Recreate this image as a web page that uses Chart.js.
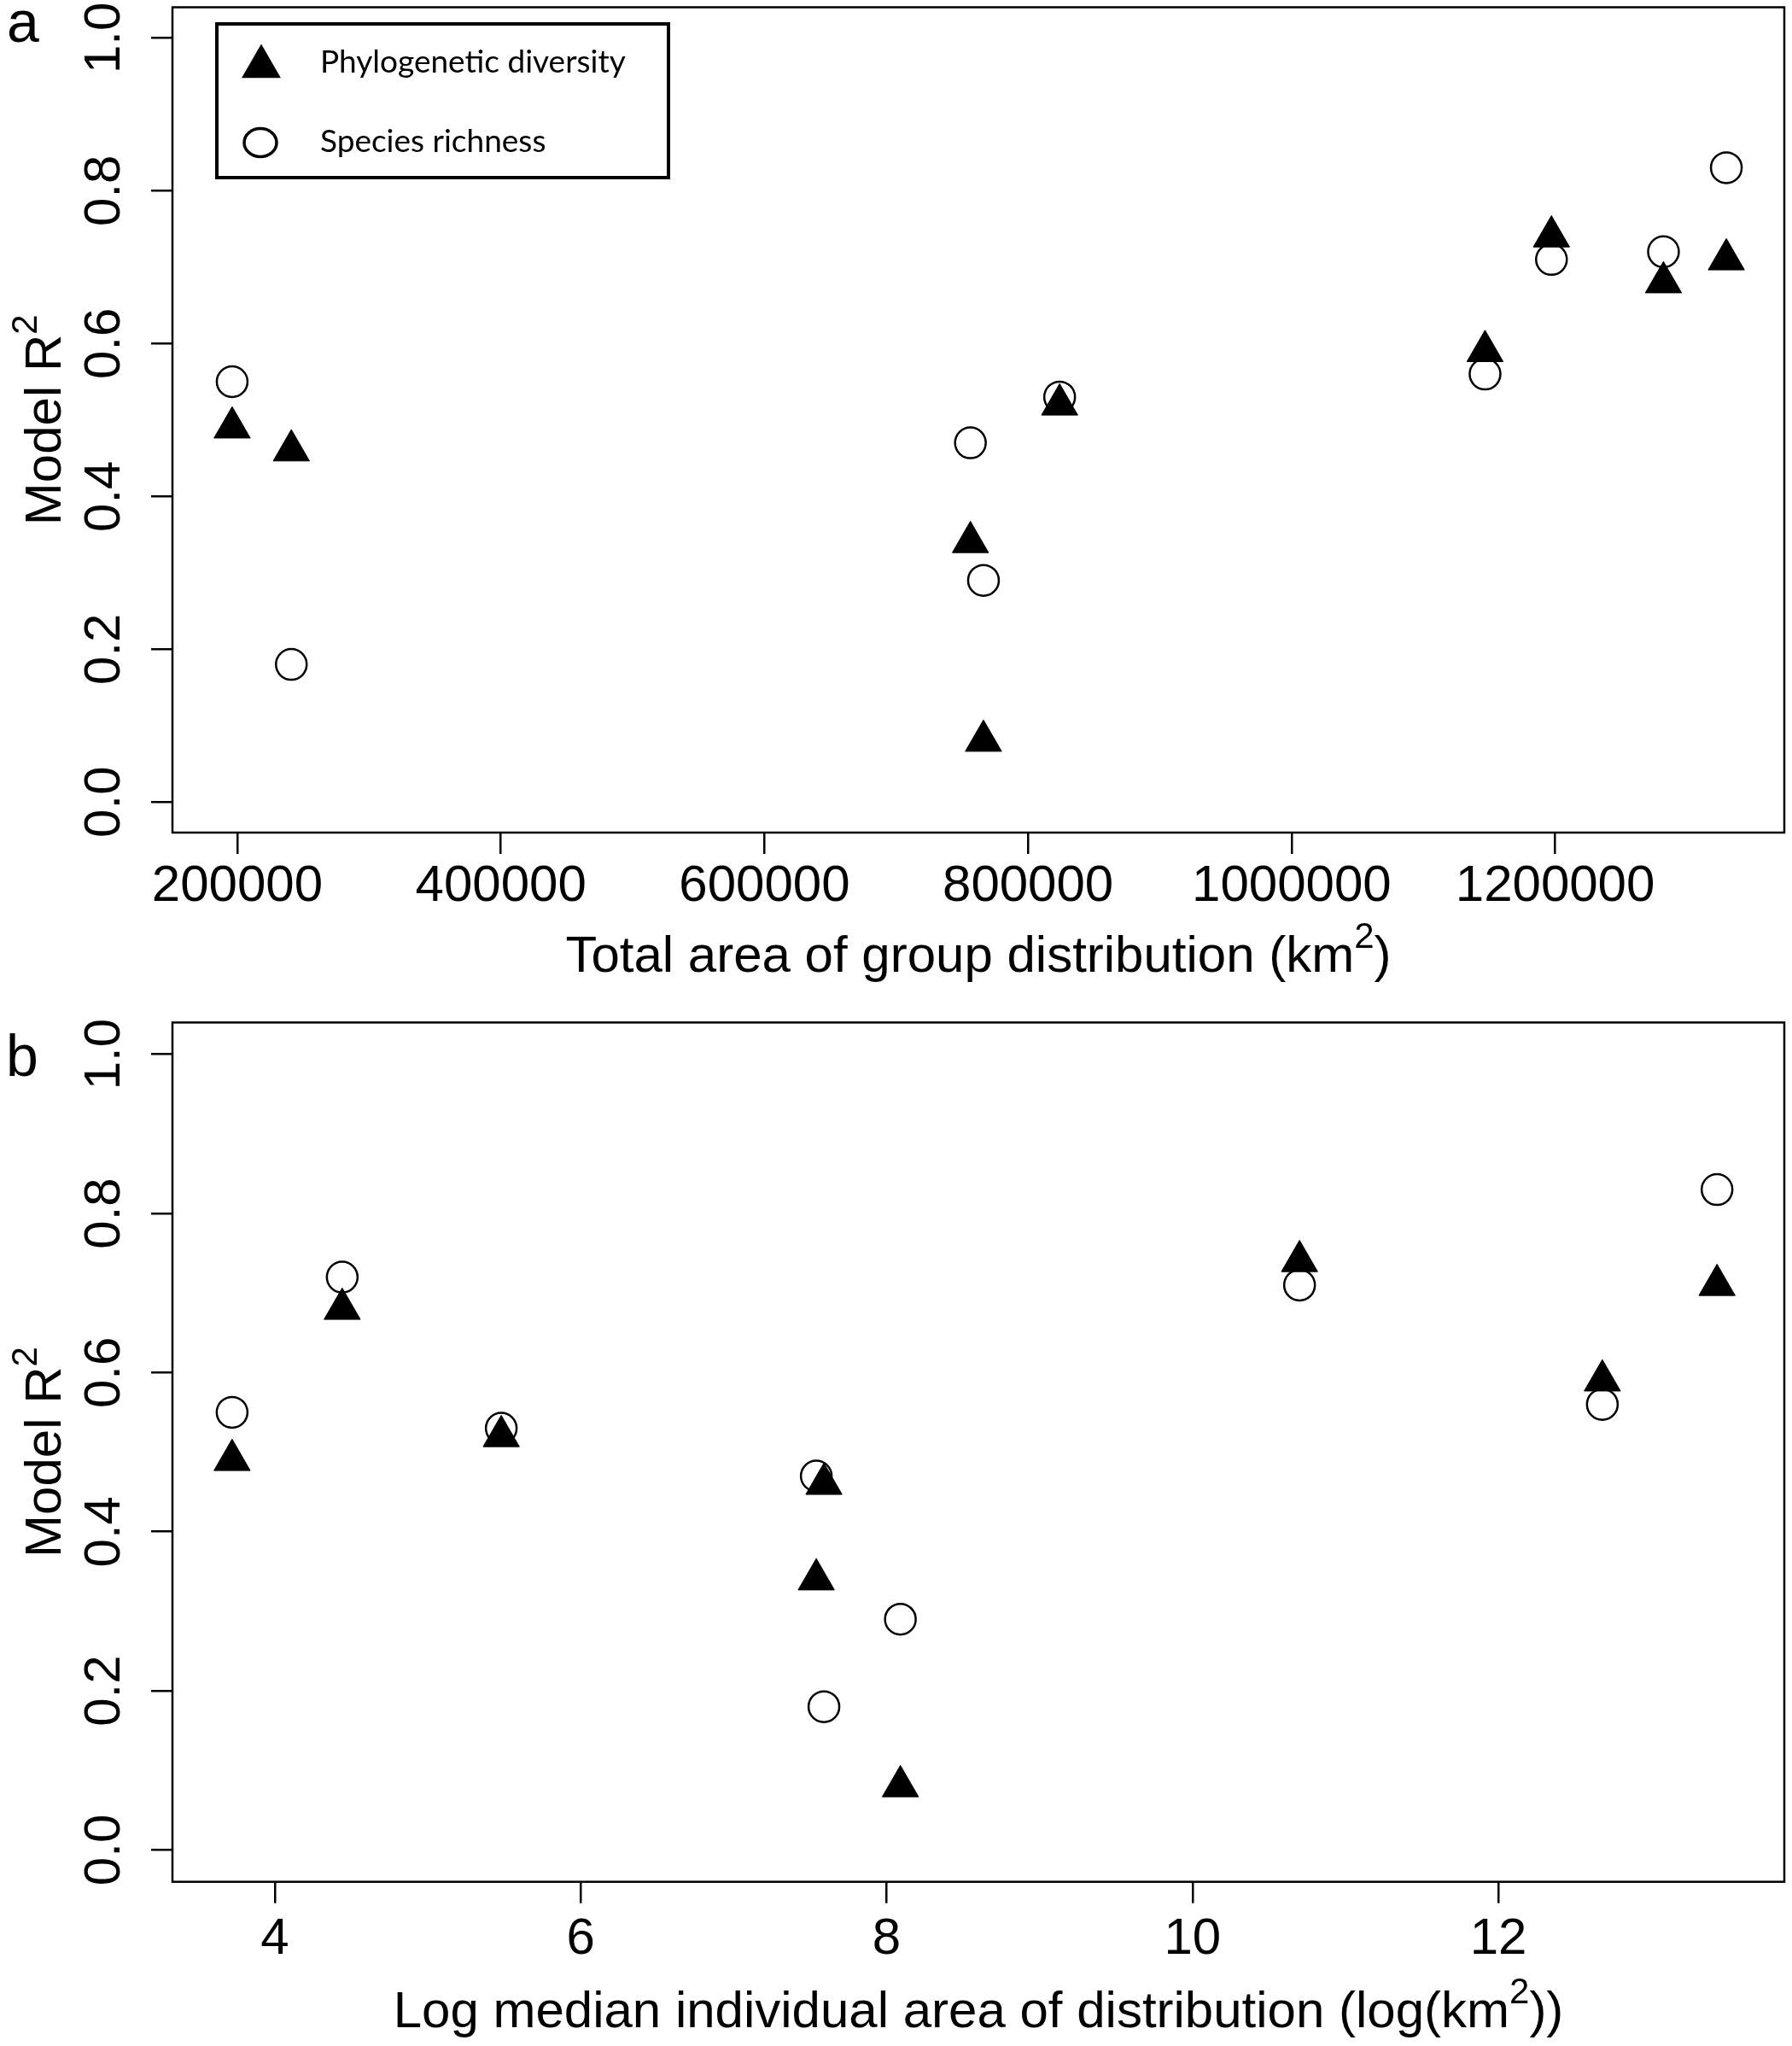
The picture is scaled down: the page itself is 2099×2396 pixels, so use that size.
<!DOCTYPE html>
<html>
<head>
<meta charset="utf-8">
<title>Model R2 against area of distribution</title>
<script src="https://cdn.jsdelivr.net/npm/chart.js@4.4.1/dist/chart.umd.min.js"></script>
<style>
  body { margin: 0; background: #fff; }
  #wrap { position: relative; width: 2099px; height: 2396px; }
  canvas { position: absolute; left: 0; }
  #chartA { top: 0; }
  #chartB { top: 1180px; }
</style>
</head>
<body>
<div id="wrap">
  <canvas id="chartA" width="2099" height="1180"></canvas>
  <canvas id="chartB" width="2099" height="1216"></canvas>
</div>
<script>
// one entry per species group, same order in every array
const totalArea = [196100, 241000, 756300, 766200, 824000, 1146800, 1197200, 1282200, 1329900];
const logMedianArea = [3.72, 7.59, 7.54, 8.09, 5.48, 12.68, 10.70, 4.44, 13.43];
const phyloDiversity = [0.49, 0.46, 0.34, 0.08, 0.52, 0.59, 0.74, 0.68, 0.71];
const speciesRichness = [0.55, 0.18, 0.47, 0.29, 0.53, 0.56, 0.71, 0.72, 0.83];

const seriesNames = ['Phylogenetic diversity', 'Species richness'];
const yTicks = [0, 0.2, 0.4, 0.6, 0.8, 1.0];
const xTicksA = [200000, 400000, 600000, 800000, 1000000, 1200000];
const xTicksB = [4, 6, 8, 10, 12];

const FONT = '"Liberation Sans", Arial, sans-serif';

// text with a superscript in the middle, centred on cx
function supText(ctx, parts, cx, y) {
  const big = '60px ' + FONT, small = '42px ' + FONT;
  ctx.font = big;
  const w1 = ctx.measureText(parts[0]).width;
  const w3 = ctx.measureText(parts[2]).width;
  ctx.font = small;
  const w2 = ctx.measureText(parts[1]).width;
  const x = cx - (w1 + w2 + w3) / 2;
  ctx.textAlign = 'left';
  ctx.textBaseline = 'alphabetic';
  ctx.font = big;
  ctx.fillText(parts[0], x, y);
  ctx.font = small;
  ctx.fillText(parts[1], x + w1, y - 28);
  ctx.font = big;
  ctx.fillText(parts[2], x + w1 + w2, y);
}

function drawLegend(ctx, chart) {
  ctx.lineWidth = 4;
  ctx.strokeRect(254, 28, 529, 180);
  // triangle
  const r = 26.5, tx = 306, ty = 78;
  ctx.beginPath();
  for (let k = 0; k < 3; k++) {
    const ang = k * 2 * Math.PI / 3;
    ctx.lineTo(tx + r * Math.sin(ang), ty - r * Math.cos(ang));
  }
  ctx.closePath();
  ctx.fill();
  // open circle
  ctx.beginPath();
  ctx.ellipse(305, 167, 19, 16.5, 0, 0, 2 * Math.PI);
  ctx.lineWidth = 3.5;
  ctx.stroke();
  ctx.font = '37px Lato';
  ctx.textAlign = 'left';
  ctx.textBaseline = 'alphabetic';
  ctx.fillText(chart.data.datasets[0].label, 375, 85);
  ctx.fillText(chart.data.datasets[1].label, 375, 178);
}

const rDecor = {
  id: 'rDecor',
  afterDraw(chart, args, o) {
    const ctx = chart.ctx, a = chart.chartArea;
    ctx.save();
    ctx.strokeStyle = '#000';
    ctx.fillStyle = '#000';
    ctx.lineWidth = 2.5;
    ctx.strokeRect(a.left, a.top, a.right - a.left, a.bottom - a.top);

    ctx.font = '68px ' + FONT;
    ctx.textAlign = 'left';
    ctx.textBaseline = 'alphabetic';
    ctx.fillText(o.letter, o.letterX, o.letterY);

    supText(ctx, o.xTitle, (a.left + a.right) / 2, o.xTitleY);

    ctx.save();
    ctx.translate(70.7, (a.top + a.bottom) / 2);
    ctx.rotate(-Math.PI / 2);
    supText(ctx, ['Model R', '2', ''], 0, 0);
    ctx.restore();

    if (o.legend) drawLegend(ctx, chart);
    ctx.restore();
  }
};

function buildChart(id, xs, xMin, xMax, xTicks, fmt, dec) {
  const tickFont = { family: FONT, size: 60 };
  return new Chart(document.getElementById(id), {
    type: 'scatter',
    data: {
      datasets: [
        {
          label: seriesNames[0],
          data: xs.map((x, i) => ({ x: x, y: phyloDiversity[i] })),
          pointStyle: 'triangle',
          pointRadius: 24.5,
          backgroundColor: '#000',
          borderColor: '#000',
          borderWidth: 1
        },
        {
          label: seriesNames[1],
          data: xs.map((x, i) => ({ x: x, y: speciesRichness[i] })),
          pointStyle: 'circle',
          pointRadius: 18,
          backgroundColor: 'rgba(0,0,0,0)',
          borderColor: '#000',
          borderWidth: 2.5
        }
      ]
    },
    options: {
      responsive: false,
      animation: false,
      devicePixelRatio: 1,
      events: [],
      layout: { autoPadding: false, padding: { left: 0, right: 9, top: dec.top, bottom: 0 } },
      plugins: {
        legend: { display: false },
        tooltip: { enabled: false },
        rDecor: dec
      },
      scales: {
        x: {
          type: 'linear',
          position: 'bottom',
          min: xMin,
          max: xMax,
          afterBuildTicks: s => { s.ticks = xTicks.map(v => ({ value: v })); },
          afterFit: s => { s.height = dec.xAxisHeight; s.paddingLeft = 0; s.paddingRight = 0; },
          ticks: {
            autoSkip: false,
            maxRotation: 0,
            padding: dec.xTickPad,
            color: '#000',
            font: tickFont,
            callback: v => fmt(v)
          },
          grid: { drawOnChartArea: false, drawTicks: true, tickLength: 25, color: '#000', lineWidth: 2.5 },
          border: { display: false }
        },
        y: {
          type: 'linear',
          min: -0.04,
          max: 1.04,
          afterBuildTicks: s => { s.ticks = yTicks.map(v => ({ value: v })); },
          afterFit: s => { s.width = 202; s.paddingTop = 0; s.paddingBottom = 0; },
          ticks: {
            minRotation: 90,
            maxRotation: 90,
            crossAlign: 'center',
            padding: 11.6,
            color: '#000',
            font: tickFont,
            callback: v => v.toFixed(1)
          },
          grid: { drawOnChartArea: false, drawTicks: true, tickLength: 25, color: '#000', lineWidth: 2.5 },
          border: { display: false }
        }
      }
    },
    plugins: [rDecor]
  });
}

buildChart('chartA', totalArea, 150800, 1373900, xTicksA, v => String(v), {
  top: 8.5, xAxisHeight: 205, xTickPad: 2, xTitleY: 1138,
  letter: 'a', letterX: 8, letterY: 49,
  xTitle: ['Total area of group distribution (km', '2', ')'],
  legend: true
});

buildChart('chartB', logMedianArea, 3.33, 13.87, xTicksB, v => String(v), {
  top: 17.4, xAxisHeight: 192.3, xTickPad: 6.3, xTitleY: 1194,
  letter: 'b', letterX: 7, letterY: 80,
  xTitle: ['Log median individual area of distribution (log(km', '2', '))'],
  legend: false
});
</script>
</body>
</html>
